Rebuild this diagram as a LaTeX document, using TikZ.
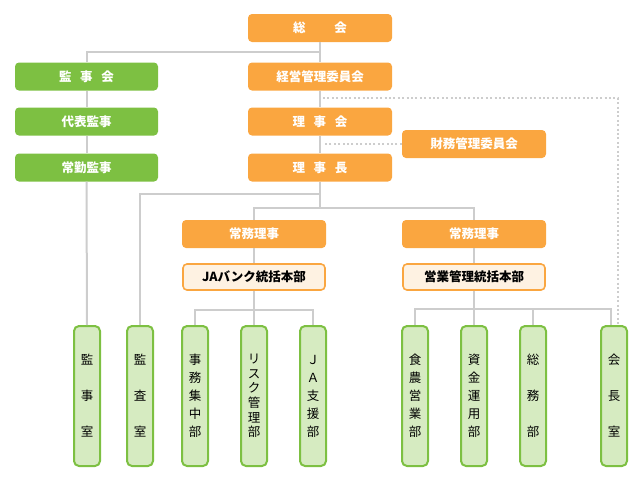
\documentclass[tikz,border=0pt]{standalone}
\usepackage{fontspec}
\newfontfamily\jpfont{Noto Sans CJK JP}
\definecolor{jaorange}{RGB}{250,166,64}
\definecolor{jagreen}{RGB}{125,192,66}
\definecolor{lightgreen}{RGB}{214,235,193}
\definecolor{lightorange}{RGB}{254,242,226}
\definecolor{linegray}{RGB}{205,205,205}
\tikzset{
  obox/.style={rectangle,rounded corners=4pt,fill=jaorange,text=white,inner sep=0pt,
    minimum width=144pt,minimum height=28pt,font=\jpfont\bfseries\fontsize{12.5}{14}\selectfont},
  gbox/.style={obox,fill=jagreen,minimum width=143pt},
  hbox/.style={obox,fill=lightorange,draw=jaorange,line width=1.6pt,text=black,
    minimum width=142pt,minimum height=26pt},
  vbox/.style={rectangle,rounded corners=5pt,fill=lightgreen,draw=jagreen,line width=2pt,
    minimum width=26pt,minimum height=140pt,inner sep=0pt,align=center,
    font=\jpfont\fontsize{12.5}{18}\selectfont},
  vwide/.style={vbox,font=\jpfont\fontsize{12.5}{36}\selectfont},
  conn/.style={draw=linegray,line width=2pt},
  dotconn/.style={draw=linegray,line width=2pt,dash pattern=on 2pt off 2.4pt}
}
\begin{document}
\begin{tikzpicture}[x=1pt,y=-1pt]
  \useasboundingbox (0,0) rectangle (644,483);

  \node[obox] (soukai) at (320,28) {総\hspace{2.3em}会};
  \node[obox] (keiei) at (320,76.5) {経営管理委員会};
  \node[obox] (rijikai) at (320,121.5) {理\hspace{0.7em}事\hspace{0.7em}会};
  \node[obox] (rijichou) at (320,167.5) {理\hspace{0.7em}事\hspace{0.7em}長};
  \node[obox] (zaimu) at (474,144) {財務管理委員会};

  \node[gbox] (kanjikai) at (86.5,76.5) {監\hspace{0.7em}事\hspace{0.7em}会};
  \node[gbox] (daihyou) at (86.5,121.5) {代表監事};
  \node[gbox] (joukin) at (86.5,167.5) {常勤監事};

  \node[obox] (jomuL) at (254,234) {常務理事};
  \node[obox] (jomuR) at (474,234) {常務理事};
  \node[hbox] (honbuL) at (254,277) {JAバンク統括本部};
  \node[hbox] (honbuR) at (474,277) {営業管理統括本部};

  \node[vwide] (kanjishitsu) at (87,396) {監\\事\\室};
  \node[vwide] (kansa) at (140,396) {監\\査\\室};
  \node[vbox] (jimu) at (195,396) {事\\務\\集\\中\\部};
  \node[vbox,font=\jpfont\fontsize{12.5}{14.6}\selectfont] (risk) at (254,396) {リ\\ス\\ク\\管\\理\\部};
  \node[vbox] (shien) at (313,396) {Ｊ\\Ａ\\支\\援\\部};
  \node[vbox] (shokunou) at (415,396) {食\\農\\営\\業\\部};
  \node[vbox] (shikin) at (474,396) {資\\金\\運\\用\\部};
  \node[vwide] (soumu) at (533,396) {総\\務\\部};
  \node[vwide] (kaichou) at (614,396) {会\\長\\室};

  \draw[conn] (soukai.south) -- (keiei.north);
  \draw[conn] (kanjikai.north) -- ++(0,-10) -| (soukai.south);
  \draw[conn] (kanjikai.south) -- (daihyou.north);
  \draw[conn] (daihyou.south) -- (joukin.north);
  \draw[conn] (joukin.south) -- (kanjishitsu.north);
  \draw[conn] (keiei.south) -- (rijikai.north);
  \draw[conn] (rijikai.south) -- (rijichou.north);
  \draw[conn] (rijichou.south) -- ++(0,12) -| (kansa.north);
  \draw[conn] (rijichou.south) -- ++(0,26) -| (jomuL.north);
  \draw[conn] (rijichou.south) ++(0,26) -| (jomuR.north);
  \draw[conn] (jomuL.south) -- (honbuL.north);
  \draw[conn] (jomuR.south) -- (honbuR.north);
  \draw[conn] (honbuL.south) -- (risk.north);
  \draw[conn] (honbuL.south) ++(0,19) -| (jimu.north);
  \draw[conn] (honbuL.south) ++(0,19) -| (shien.north);
  \draw[conn] (honbuR.south) -- (shikin.north);
  \draw[conn] (honbuR.south) ++(0,18) -| (shokunou.north);
  \draw[conn] (honbuR.south) ++(0,18) -| (soumu.north);
  \draw[conn] (honbuR.south) ++(0,18) -| ([xshift=-3pt]kaichou.north);

  \coordinate (dotstart) at (323,98);
  \draw[dotconn] (dotstart) -| ([xshift=4pt]kaichou.north);
  \draw[dotconn] (zaimu.west) -- ([xshift=3pt]zaimu.west -| rijikai.south);

\end{tikzpicture}
\end{document}
